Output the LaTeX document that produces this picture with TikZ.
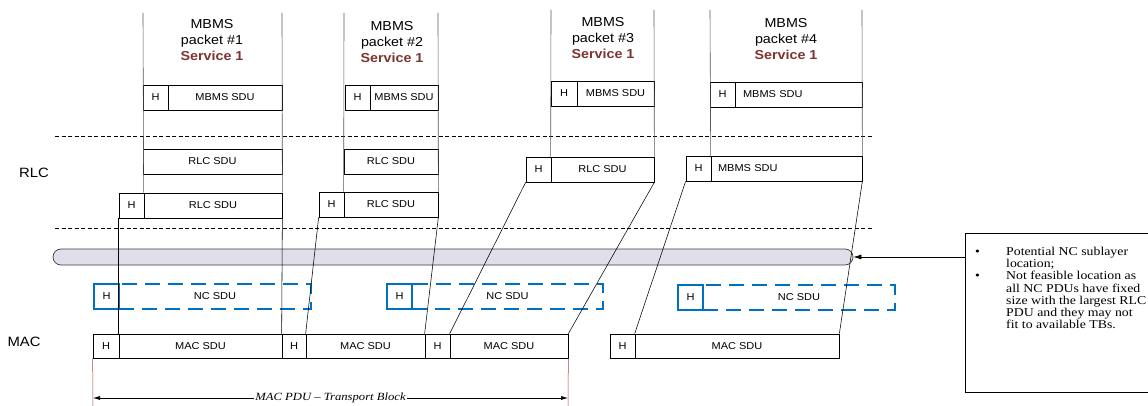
\documentclass[tikz,border=0pt]{standalone}
\usepackage{fontspec}
\usetikzlibrary{arrows.meta}
\newfontfamily\diagsans[FakeStretch=1.1]{Liberation Sans}
\newfontfamily\diagserif[FakeStretch=1.15]{Liberation Serif}
\definecolor{svc}{RGB}{125,52,48}
\definecolor{ncblue}{RGB}{0,112,192}
\definecolor{pillfill}{RGB}{225,221,234}
\definecolor{pillline}{RGB}{60,60,60}
\definecolor{colgray}{RGB}{90,90,90}
\definecolor{dimred}{RGB}{175,70,70}
\tikzset{
  cell/.style={draw=black, line width=0.7pt, inner sep=0pt, font=\diagsans\fontsize{10}{12}\selectfont},
  nchead/.style={draw=ncblue, line width=2pt, inner sep=0pt, font=\diagsans\fontsize{10}{12}\selectfont},
  ncbody/.style={draw=ncblue, line width=2pt, dash pattern=on 15pt off 8pt, inner sep=0pt, font=\diagsans\fontsize{10}{12}\selectfont},
  colline/.style={draw=colgray, line width=0.6pt},
  link/.style={draw=black, line width=0.55pt},
  layersep/.style={draw=black, line width=0.6pt, dash pattern=on 4pt off 2.5pt},
  hdr/.style={align=center, inner sep=0pt, font=\diagsans\fontsize{13}{16}\selectfont},
  layerlabel/.style={inner sep=0pt, font=\diagsans\fontsize{13.5}{16}\selectfont},
  redline/.style={draw=dimred, line width=0.5pt},
  dimline/.style={draw=black, line width=0.6pt, {Latex[length=7pt,width=4pt]}-{Latex[length=7pt,width=4pt]}},
}
\newcommand\cellbox[7][cell]{\node[#1, minimum width={(#5)-(#3)}, minimum height={(#6)-(#4)}] (#2) at ({((#3)+(#5))/2},{((#4)+(#6))/2}) {#7};}
\begin{document}
\begin{tikzpicture}[x=1pt,y=-1pt]
\useasboundingbox (0,0) rectangle (1148,406);
\clip (0,0) rectangle (1148,406);
\fill[white] (0,0) rectangle (1148,406);

% layer separators
\coordinate (d1a) at (55,136); \coordinate (d1b) at (873,136);
\coordinate (d2a) at (55,228); \coordinate (d2b) at (872,228);
\draw[layersep] (d1a) -- (d1b);
\draw[layersep] (d2a) -- (d2b);

% layer labels
\node[layerlabel] (rlclabel) at (34,173) {RLC};
\node[layerlabel] (maclabel) at (24,342) {MAC};

% pill (potential NC sublayer)
\node[draw=pillline, fill=pillfill, line width=0.7pt, rounded corners=8pt, minimum width=800pt, minimum height=16pt, inner sep=0pt] (pill) at (453,257) {};

% headers
\node[hdr] (p1) at (212,40) {MBMS\\packet \#1\\\textcolor{svc}{\bfseries Service 1}};
\node[hdr] (p2) at (392,42) {MBMS\\packet \#2\\\textcolor{svc}{\bfseries Service 1}};
\node[hdr] (p3) at (603,38) {MBMS\\packet \#3\\\textcolor{svc}{\bfseries Service 1}};
\node[hdr] (p4) at (786,39) {MBMS\\packet \#4\\\textcolor{svc}{\bfseries Service 1}};

% MBMS SDU row
\cellbox{m1h}{143}{85}{168}{110}{H}
\cellbox{m1s}{168}{85}{282}{110}{MBMS SDU}
\cellbox{m2h}{345}{85}{370}{110}{H}
\cellbox{m2s}{370}{85}{438}{110}{MBMS SDU}
\cellbox{m3h}{551}{81}{577}{106}{H}
\cellbox{m3s}{577}{81}{654}{106}{MBMS SDU}
\cellbox{m4h}{710}{82}{735}{107}{H}
\cellbox[cell, text width=111pt, align=left]{m4s}{735}{82}{862}{107}{MBMS SDU}

% RLC rows
\cellbox{r1s}{143}{149}{282}{174}{RLC SDU}
\cellbox{r2s}{344}{149}{438}{174}{RLC SDU}
\cellbox{r1bh}{119}{193}{144}{218}{H}
\cellbox{r1bs}{144}{193}{282}{218}{RLC SDU}
\cellbox{r2bh}{319}{192}{344}{217}{H}
\cellbox{r2bs}{344}{192}{438}{217}{RLC SDU}
\cellbox{r3h}{526}{157}{551}{182}{H}
\cellbox{r3s}{551}{157}{654}{182}{RLC SDU}
\cellbox{r4h}{686}{156}{711}{181}{H}
\cellbox[cell, text width=137pt, align=left]{r4s}{711}{156}{862}{181}{MBMS SDU}

% NC row
\cellbox[ncbody]{n1s}{119}{284}{311}{309}{NC SDU}
\cellbox[nchead]{n1h}{94}{284}{119}{309}{H}
\cellbox[ncbody]{n2s}{412}{284}{603}{309}{NC SDU}
\cellbox[nchead]{n2h}{387}{284}{412}{309}{H}
\cellbox[ncbody]{n3s}{703}{285}{895}{310}{NC SDU}
\cellbox[nchead]{n3h}{678}{285}{703}{310}{H}

% MAC row
\cellbox{a1h}{93}{334}{119}{358}{H}
\cellbox{a1s}{119}{334}{282}{358}{MAC SDU}
\cellbox{a2h}{282}{334}{306}{358}{H}
\cellbox{a2s}{306}{334}{425}{358}{MAC SDU}
\cellbox{a3h}{425}{334}{450}{358}{H}
\cellbox{a3s}{450}{334}{568}{358}{MAC SDU}
\cellbox{a4h}{610}{334}{635}{358}{H}
\cellbox{a4s}{635}{334}{839}{358}{MAC SDU}

% column boundary lines
\coordinate (t1l) at (143,13); \coordinate (t1r) at (282,13);
\coordinate (t2l) at (344,13); \coordinate (t2r) at (438,13);
\coordinate (t3l) at (551,10); \coordinate (t3r) at (654,10);
\coordinate (t4l) at (710,10); \coordinate (t4r) at (862,10);
\draw[colline] (t1l) -- (r1bs.north west);
\draw[colline] (t1r) -- (r1bs.north east);
\draw[colline] (t2l) -- (r2bs.north west);
\draw[colline] (t2r) -- (r2bs.north east);
\draw[colline] (t3l) -- (r3s.north west);
\draw[colline] (t3r) -- (r3s.north east);
\draw[colline] (t4l) -- (r4s.north west);
\draw[colline] (t4r) -- (r4s.north east);

% RLC -> MAC mapping lines
\draw[link] (r1bh.south west) -- (a1s.north west);
\draw[link] (r1bs.south east) -- (a2h.north west);
\draw[link] (r2bh.south west) -- (a2s.north west);
\draw[link] (r2bs.south east) -- (a3h.north west);
\draw[link] (r3h.south west) -- (a3s.north west);
\draw[link] (r3s.south east) -- (a3s.north east);
\draw[link] (r4h.south west) -- (a4s.north west);
\draw[link] (r4s.south east) -- (a4s.north east);

% transport block dimension
\coordinate (b1) at (93,406); \coordinate (b2) at (568,406);
\draw[redline] (a1h.south west) -- (b1);
\draw[redline] (a3s.south east) -- (b2);
\coordinate (pl) at (93,398); \coordinate (pr) at (568,398);
\draw[dimline] (pl) -- node[fill=white, inner sep=1pt, font=\diagserif\itshape\fontsize{11}{13}\selectfont] (tblabel) {MAC PDU – Transport Block} (pr);

% note box
\node[draw=black, line width=0.8pt, minimum width=200pt, minimum height=159pt, anchor=north west, inner sep=0pt] (notebox) at (965,233) {};
\node[anchor=north west, align=left, inner sep=0pt, font=\diagserif\fontsize{12}{12.2}\selectfont] (notetext) at (975,247)
{\makebox[31pt][l]{\textbullet}Potential NC sublayer\\
\makebox[31pt][l]{}location;\\
\makebox[31pt][l]{\textbullet}Not feasible location as\\
\makebox[31pt][l]{}all NC PDUs have fixed\\
\makebox[31pt][l]{}size with the largest RLC\\
\makebox[31pt][l]{}PDU and they may not\\
\makebox[31pt][l]{}fit to available TBs.};
\draw[line width=0.7pt, -{Latex[length=8pt,width=5pt]}] (notebox.west |- pill.east) -- (pill.east);
\end{tikzpicture}
\end{document}
